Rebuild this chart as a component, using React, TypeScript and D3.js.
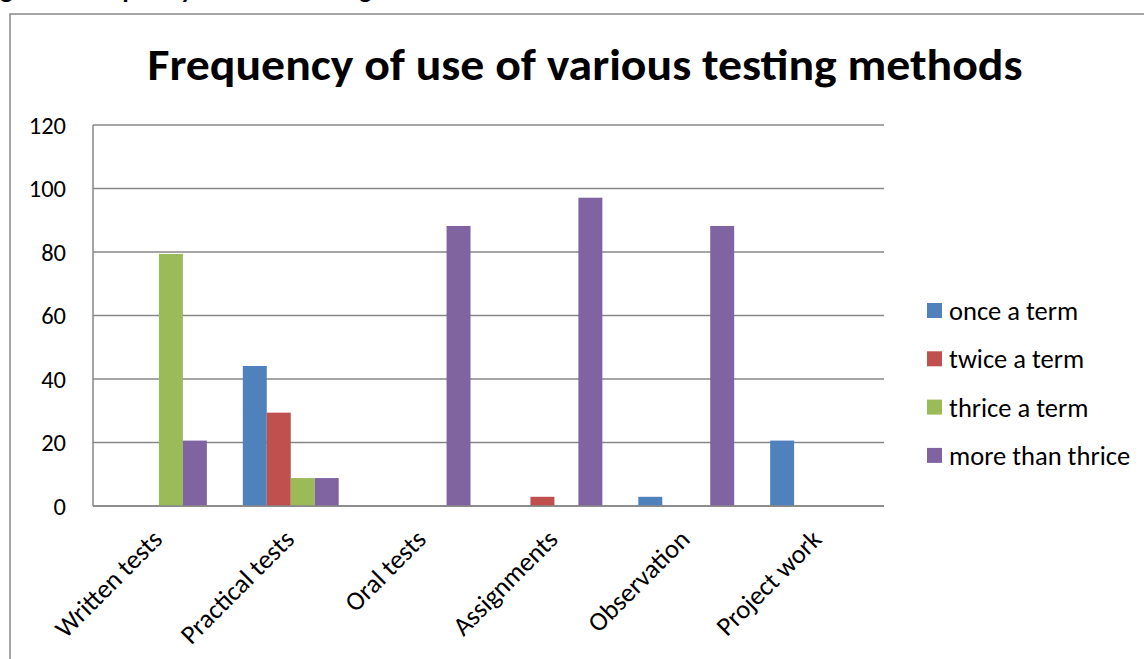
import React from "react";
import * as d3 from "d3";

const categories = ["Written tests", "Practical tests", "Oral tests", "Assignments", "Observation", "Project work"];
const seriesNames = ["once a term", "twice a term", "thrice a term", "more than thrice"];
const onceATerm = [0, 44.1, 0, 0, 2.9, 20.6];
const twiceATerm = [0, 29.4, 0, 2.9, 0, 0];
const thriceATerm = [79.4, 8.8, 0, 0, 0, 0];
const moreThanThrice = [20.6, 8.8, 88.2, 97.1, 88.2, 0];
const yTicks = [0, 20, 40, 60, 80, 100, 120];
const colors = ["#4F81BD", "#C0504D", "#9BBB59", "#8064A2"];

const seriesValues = [onceATerm, twiceATerm, thriceATerm, moreThanThrice];

const W = 1144;
const H = 659;
const left = 93;
const right = 884;
const top = 125;
const bottom = 506;
const FONT = "Carlito, Lato, 'Open Sans', sans-serif";

export default function App() {
  const x0 = d3.scaleBand<string>().domain(categories).range([left, right]).paddingInner(0).paddingOuter(0);
  const bw = x0.bandwidth();
  const barW = bw / 5.5;
  const x1 = d3
    .scaleBand<number>()
    .domain([0, 1, 2, 3])
    .range([barW * 0.75, barW * 0.75 + barW * 4]);
  const y = d3.scaleLinear().domain([0, 120]).range([bottom, top]);

  return (
    <svg width={W} height={H} style={{ position: "absolute", left: 0, top: 0, background: "#fff" }} fontFamily={FONT}>
      <rect x={0} y={0} width={W} height={H} fill="#fff" />
      <text x={-18} y={-2} fontSize={26} fontWeight="bold" fill="#000">
        Figure 5: Frequency of use of testing methods
      </text>
      <rect x={10} y={14} width={W + 20} height={H + 20} fill="none" stroke="#888" strokeWidth={1.5} />
      <text x={585} y={80} textAnchor="middle" fontSize={44} fontWeight="bold" fill="#000" textLength={875} lengthAdjust="spacingAndGlyphs">
        Frequency of use of various testing methods
      </text>
      {yTicks.map((t) => (
        <g key={t}>
          <line x1={left} x2={right} y1={y(t)} y2={y(t)} stroke="#878787" strokeWidth={1.5} />
          <text x={66} y={y(t)} dy="0.36em" textAnchor="end" fontSize={24.5} fill="#000">
            {t}
          </text>
        </g>
      ))}
      <line x1={left} x2={left} y1={top} y2={bottom} stroke="#878787" strokeWidth={1.5} />
      {categories.map((c, i) => (
        <g key={c}>
          {seriesValues.map((vals, s) =>
            vals[i] > 0 ? (
              <rect
                key={s}
                x={(x0(c) as number) + (x1(s) as number)}
                y={y(vals[i])}
                width={barW}
                height={bottom - y(vals[i])}
                fill={colors[s]}
              />
            ) : null
          )}
        </g>
      ))}
      <line x1={left} x2={right} y1={bottom} y2={bottom} stroke="#878787" strokeWidth={1.5} />
      {categories.map((c) => {
        const cx = (x0(c) as number) + bw / 2 + 5;
        const cy = 541;
        return (
          <text key={c} x={cx} y={cy} textAnchor="end" fontSize={26.5} fill="#000" transform={`rotate(-45 ${cx} ${cy})`}>
            {c}
          </text>
        );
      })}
      {seriesNames.map((n, i) => (
        <g key={n} transform={`translate(927, ${303 + i * 48.3})`}>
          <rect x={0} y={0} width={15} height={15} fill={colors[i]} />
          <text x={22} y={7.5} dy="0.36em" fontSize={26.5} fill="#000">
            {n}
          </text>
        </g>
      ))}
    </svg>
  );
}
